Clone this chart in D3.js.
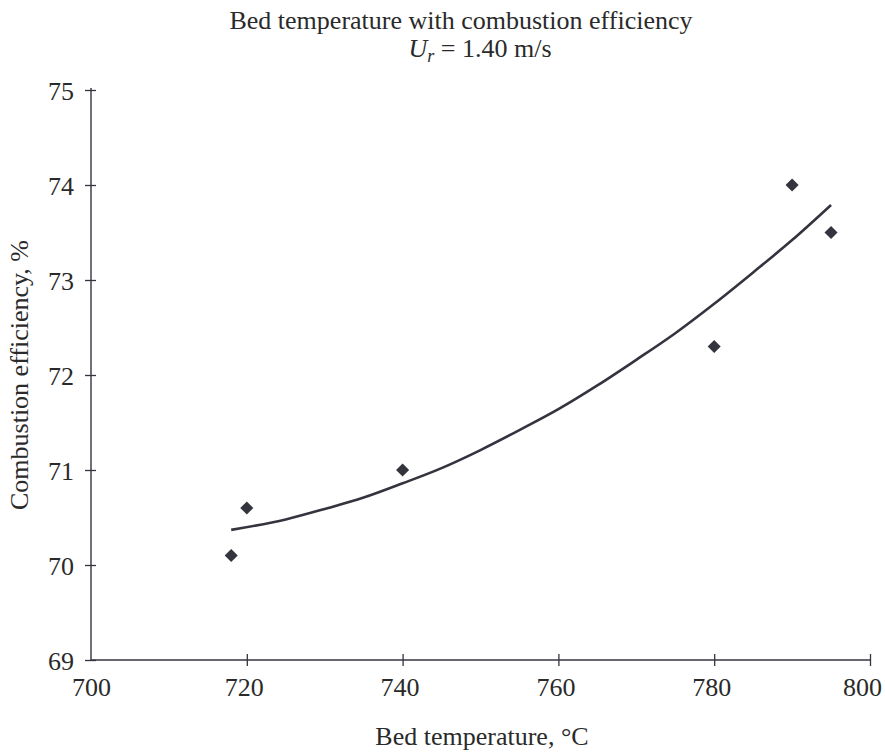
<!DOCTYPE html>
<html>
<head>
<meta charset="utf-8">
<script src="https://cdn.jsdelivr.net/npm/d3@7"></script>
<style>
  body { margin: 0; background: #fff; }
  svg text { font-family: "Liberation Serif", "Times New Roman", serif; fill: #2a2a2a; }
</style>
</head>
<body>
<svg id="chart" width="885" height="753"></svg>
<script>
// measured points
var bedTemp = [718, 720, 740, 780, 790, 795];
var efficiency = [70.1, 70.6, 71.0, 72.3, 74.0, 73.5];

// fitted trend line
var trendTemp = [718, 725, 730, 735, 740, 745, 750, 755, 760, 765, 770, 775, 780, 785, 790, 795];
var trendEff = [70.37, 70.48, 70.59, 70.71, 70.86, 71.02, 71.21, 71.42, 71.64, 71.89, 72.16, 72.44, 72.75, 73.08, 73.42, 73.79];

var xTicks = [700, 720, 740, 760, 780, 800];
var yTicks = [69, 70, 71, 72, 73, 74, 75];

var svg = d3.select("#chart");
var ink = "#34343f";

var x = d3.scaleLinear().domain([700, 800]).range([91, 870]);
var y = d3.scaleLinear().domain([69, 75]).range([660, 90]);

// x axis
var xAxis = svg.append("g")
  .attr("transform", "translate(0," + y(69) + ")")
  .call(d3.axisBottom(x).tickValues(xTicks).tickSize(5).tickPadding(13).tickFormat(d3.format("d")));
xAxis.select(".domain").attr("stroke", ink).attr("stroke-width", 1.4).attr("d", "M" + x(700) + ",0H" + x(800));
xAxis.selectAll(".tick line").attr("y1", -6).attr("y2", 6).attr("stroke", ink).attr("stroke-width", 1.3)
  .filter(d => d == 700).remove();
xAxis.selectAll(".tick text").style("font-size", "26px").attr("fill", "#2a2a2a")
  .attr("dx", d => d == 800 ? -8 : (d == 700 ? 0 : -3));

// y axis
var yAxis = svg.append("g")
  .attr("transform", "translate(" + x(700) + ",0)")
  .call(d3.axisLeft(y).tickValues(yTicks).tickSize(5).tickPadding(12).tickFormat(d3.format("d")));
yAxis.select(".domain").attr("stroke", ink).attr("stroke-width", 1.4).attr("d", "M0," + (y(75) - 2) + "V" + y(69));
yAxis.selectAll(".tick line").attr("x1", -6).attr("x2", 5).attr("stroke", ink).attr("stroke-width", 1.3);
yAxis.selectAll(".tick text").style("font-size", "26px").attr("fill", "#2a2a2a").attr("dy", "0.36em");

// trend line
var trend = trendTemp.map((t, i) => [t, trendEff[i]]);
svg.append("path")
  .datum(trend)
  .attr("d", d3.line().x(d => x(d[0])).y(d => y(d[1])).curve(d3.curveMonotoneX))
  .attr("fill", "none")
  .attr("stroke", ink)
  .attr("stroke-width", 2.6);

// diamonds
svg.selectAll(".pt")
  .data(bedTemp)
  .enter()
  .append("path")
  .attr("class", "pt")
  .attr("d", d3.symbol().type(d3.symbolSquare).size(85))
  .attr("transform", (d, i) => "translate(" + x(d) + "," + y(efficiency[i]) + ") rotate(45)")
  .attr("fill", ink);

// titles
svg.append("text")
  .attr("x", 461).attr("y", 29)
  .attr("text-anchor", "middle")
  .style("font-size", "26px")
  .text("Bed temperature with combustion efficiency");

var sub = svg.append("text")
  .attr("x", 480).attr("y", 57)
  .attr("text-anchor", "middle")
  .style("font-size", "26px");
sub.append("tspan").style("font-style", "italic").text("U");
sub.append("tspan").style("font-style", "italic").style("font-size", "18px").attr("dy", 5).text("r");
sub.append("tspan").attr("dy", -5).text(" = 1.40 m/s");

// axis labels
svg.append("text")
  .attr("x", 482).attr("y", 745)
  .attr("text-anchor", "middle")
  .style("font-size", "26px")
  .text("Bed temperature, \u00B0C");

svg.append("text")
  .attr("transform", "translate(28,375) rotate(-90)")
  .attr("text-anchor", "middle")
  .style("font-size", "26px")
  .text("Combustion efficiency, %");
</script>
</body>
</html>
